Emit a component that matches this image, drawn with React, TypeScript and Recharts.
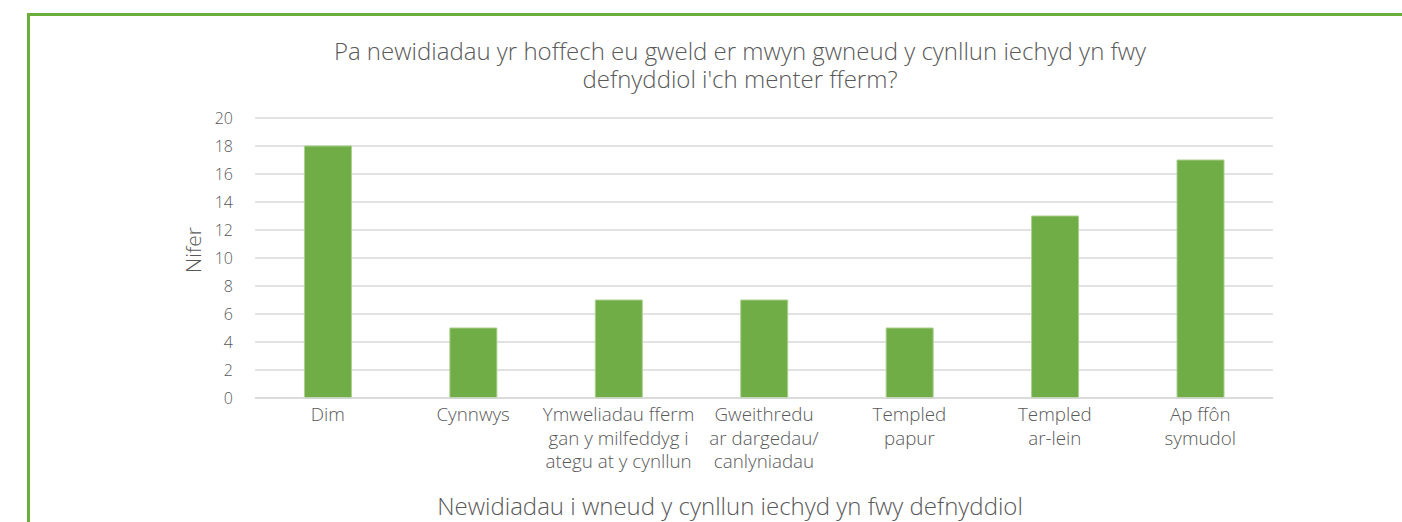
import React from "react";
import { BarChart, Bar, XAxis, YAxis, CartesianGrid } from "recharts";

const categories = [
  "Dim",
  "Cynnwys",
  "Ymweliadau fferm\ngan y milfeddyg i\nategu at y cynllun",
  "Gweithredu\nar dargedau/\ncanlyniadau",
  "Templed\npapur",
  "Templed\nar-lein",
  "Ap ffôn\nsymudol",
];
const counts = [18, 5, 7, 7, 5, 13, 17];
const yTicks = [0, 2, 4, 6, 8, 10, 12, 14, 16, 18, 20];

const titleLines = [
  "Pa newidiadau yr hoffech eu gweld er mwyn gwneud y cynllun iechyd yn fwy",
  "defnyddiol i'ch menter fferm?",
];
const xTitle = "Newidiadau i wneud y cynllun iechyd yn fwy defnyddiol";
const yTitle = "Nifer";

const data = categories.map((c, i) => ({ name: c, value: counts[i] }));

const FONT = "'Open Sans', 'Noto Sans', sans-serif";
const TEXT = "#595959";

function MultiTick(props: any) {
  const { x, y, payload } = props;
  const lines = String(payload.value).split("\n");
  return (
    <text
      x={x}
      y={y}
      textAnchor="middle"
      fill={TEXT}
      fontSize={18.8}
      fontWeight={300}
      fontFamily={FONT}
    >
      {lines.map((l, i) => (
        <tspan key={i} x={x} dy={i === 0 ? 15 : 23.5}>
          {l}
        </tspan>
      ))}
    </text>
  );
}

export default function App() {
  return (
    <div
      style={{
        position: "absolute",
        left: 0,
        top: 0,
        width: 1402,
        height: 522,
        overflow: "hidden",
        background: "#fff",
        fontFamily: FONT,
        fontWeight: 300,
        color: TEXT,
      }}
    >
      <div
        style={{
          position: "absolute",
          left: 27,
          top: 13,
          width: 1500,
          height: 700,
          borderLeft: "3px solid #6aae3c",
          borderTop: "3px solid #6aae3c",
        }}
      />
      <div
        style={{
          position: "absolute",
          left: 240,
          width: 1000,
          top: 37,
          textAlign: "center",
          fontSize: 24,
          lineHeight: "28px",
        }}
      >
        {titleLines.map((t, i) => (
          <div key={i}>{t}</div>
        ))}
      </div>
      <div style={{ position: "absolute", left: 0, top: 0 }}>
        <BarChart
          width={1402}
          height={522}
          data={data}
          margin={{ top: 118, right: 129, left: 175, bottom: 4 }}
          barCategoryGap="34%"
        >
          <CartesianGrid vertical={false} stroke="#d9d9d9" strokeWidth={1.5} />
          <XAxis
            dataKey="name"
            interval={0}
            tick={<MultiTick />}
            tickLine={false}
            axisLine={{ stroke: "#d9d9d9", strokeWidth: 1.5 }}
            height={120}
          />
          <YAxis
            domain={[0, 20]}
            ticks={yTicks}
            tickLine={false}
            axisLine={false}
            width={80}
            tickMargin={16}
            tick={{ fill: TEXT, fontSize: 16, fontFamily: FONT }}
          />
          <Bar
            dataKey="value"
            fill="#70ad47"
            stroke="#a9d18e"
            strokeWidth={1}
            isAnimationActive={false}
          />
        </BarChart>
      </div>
      <div
        style={{
          position: "absolute",
          left: 330,
          width: 800,
          top: 490,
          textAlign: "center",
          fontSize: 24,
          lineHeight: "32px",
        }}
      >
        {xTitle}
      </div>
      <div
        style={{
          position: "absolute",
          left: 193 - 50,
          width: 100,
          top: 250 - 15,
          height: 30,
          lineHeight: "30px",
          textAlign: "center",
          fontSize: 21,
          transform: "rotate(-90deg)",
        }}
      >
        {yTitle}
      </div>
    </div>
  );
}
